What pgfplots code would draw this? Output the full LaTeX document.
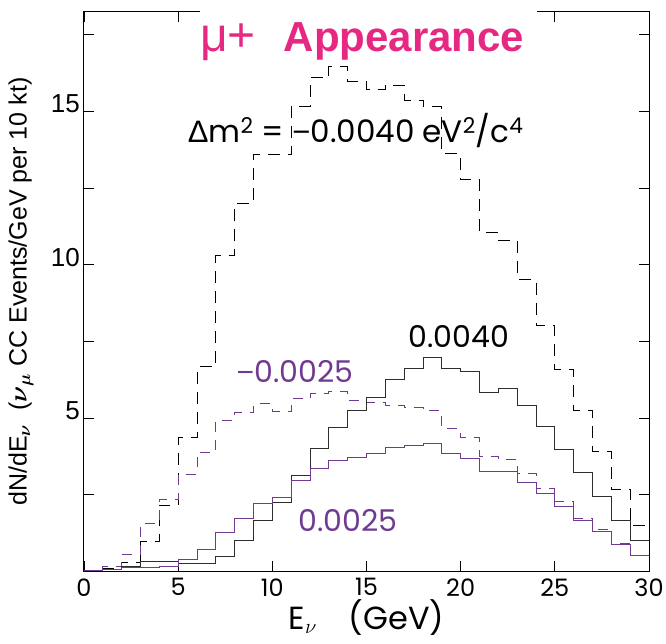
\documentclass[border=0pt]{standalone}
\usepackage{fontspec}
\usepackage{amsmath}
\usepackage{pgfplots}
\pgfplotsset{compat=1.18}
\usepackage{pgfplotstable}
\setmainfont{Liberation Sans}
\newfontfamily\pop{Poppins}
\newfontfamily\lib{Liberation Sans}
\definecolor{pk}{RGB}{230,40,130}
\definecolor{pu}{RGB}{112,58,145}
\definecolor{dg}{RGB}{45,45,45}

\pgfplotstableread{
E  bd     bs    pd    ps
0  0.02   0.01  0.03  0.03
1  0.08   0.06  0.15  0.05
2  0.28   0.15  0.55  0.12
3  0.97   0.32  1.57  0.12
4  2.16   0.32  2.33  0.15
5  4.37   0.24  3.17  0.37
6  6.68   0.24  3.87  0.70
7  10.30  0.48  4.93  1.27
8  11.98  0.99  5.17  1.73
9  13.60  1.67  5.46  2.22
10 13.60  2.24  5.21  2.41
11 15.17  3.12  5.64  2.96
12 16.10  4.01  5.80  3.36
13 16.45  4.68  5.86  3.61
14 15.98  5.23  5.56  3.72
15 15.71  5.66  5.49  3.85
16 15.85  6.26  5.42  4.04
17 15.37  6.60  5.33  4.09
18 15.17  6.98  5.25  4.17
19 13.63  6.60  4.65  3.85
20 12.78  6.51  4.36  3.68
21 11.04  5.84  3.74  3.25
22 10.80  5.95  3.65  3.25
23 9.52   5.40  3.20  2.89
24 8.02   4.72  2.71  2.54
25 6.59   3.96  2.27  2.11
26 5.23   3.22  1.73  1.67
27 3.90   2.43  1.35  1.29
28 2.67   1.67  0.91  0.86
29 1.50   0.99  0.50  0.50
30 1.50   0.99  0.50  0.50
}\data

\begin{document}
\begin{tikzpicture}
\begin{axis}[
  name=ax,
  scale only axis,
  width=565pt, height=559.6pt,
  xmin=0, xmax=30, ymin=0, ymax=18.25,
  xtick={0,5,...,30},
  ytick={2.5,5,7.5,10,12.5,15,17.5},
  yticklabels={,5,,10,,15,},
  tick align=inside,
  major tick length=10pt,
  tick style={black, line width=0.8pt},
  axis line style={black, line width=1pt},
  /pgf/number format/assume math mode=true,
  xticklabel style={font=\pop\fontsize{24}{28}\selectfont, inner sep=0pt, anchor=north, yshift=-7pt},
  yticklabel style={font=\lib\fontsize{26}{30}\selectfont, inner sep=0pt, anchor=south east, xshift=-4pt, yshift=-2pt},
  xlabel={\pop\fontsize{32}{38}\selectfont E$_{\nu}$\quad(GeV)},
  xlabel style={at={(axis description cs:0.5,-0.0835)}, anchor=center, inner sep=0pt},
  ylabel={\fontsize{25}{30}\selectfont dN/dE$_{\boldsymbol{\nu}}$\ \ ($\boldsymbol{\nu}_{\boldsymbol{\mu}}$ CC Events/GeV per 10 kt)},
  ylabel style={at={(axis description cs:-0.1115,0.5)}, anchor=center, rotate=0, inner sep=0pt},
  clip=false,
]
\addplot[const plot mark left, no marks, black, line width=1pt, dash pattern=on 12pt off 8pt] table[x=E,y=bd]{\data};
\addplot[const plot mark left, no marks, pu, line width=1pt, dash pattern=on 10pt off 8pt] table[x=E,y=pd]{\data};
\addplot[const plot mark left, no marks, dg, line width=1pt] table[x=E,y=bs]{\data};
\addplot[const plot mark left, no marks, pu, line width=1pt] table[x=E,y=ps]{\data};

\node[font=\pop\fontsize{31}{36}\selectfont, black] at (axis cs:14.43,14.36)
  {{\lib Δ}m\textsuperscript{2} = {\lib −}0.0040 eV\textsuperscript{2}/c\textsuperscript{4}};
\node[font=\pop\fontsize{30}{34}\selectfont, black] at (axis cs:19.9,7.64) {0.0040};
\node[font=\pop\fontsize{30}{34}\selectfont, text=pu] at (axis cs:11.2,6.53) {{\lib −}0.0025};
\node[font=\pop\fontsize{30}{34}\selectfont, text=pu] at (axis cs:14.0,1.67) {0.0025};
\end{axis}
\fill[white] ([xshift=116pt,yshift=4pt]ax.north west) rectangle ([xshift=453pt,yshift=-48pt]ax.north west);
\node[text=pk, anchor=base west, inner sep=0pt] at ([xshift=116pt,yshift=-40pt]ax.north west)
  {{\fontsize{48}{52}\selectfont μ+}\hspace{28pt}{\bfseries\fontsize{42}{46}\selectfont Appearance}};
\pgfresetboundingbox
\path[use as bounding box] ([xshift=-84pt,yshift=-71.7pt]ax.south west) rectangle ([xshift=17pt,yshift=11.7pt]ax.north east);
\end{tikzpicture}
\end{document}
